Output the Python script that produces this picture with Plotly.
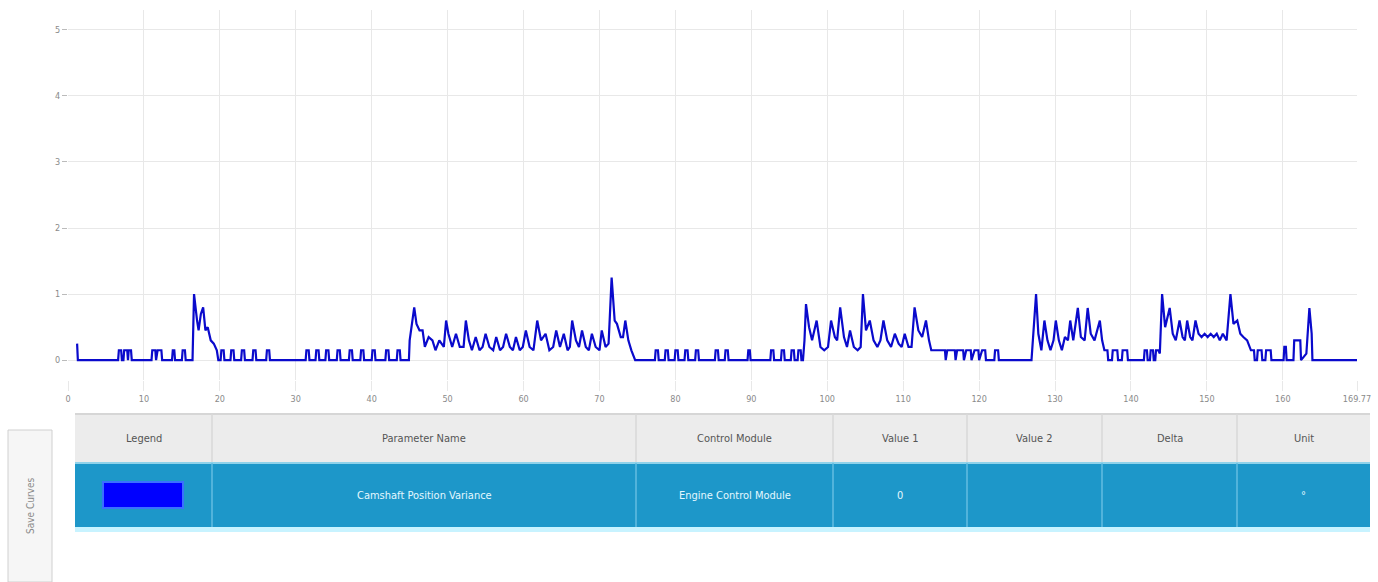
import plotly.graph_objects as go

# ---------------- data ----------------
time_s = [
    1.2, 1.3, 6.6, 6.7, 7.0, 7.1, 7.3, 7.4, 7.8, 7.9, 8.0, 8.3, 8.4,
    11.0, 11.1, 11.5, 11.6, 11.8, 12.3, 12.4, 13.7, 13.8, 14.0, 14.1, 15.0, 15.1, 15.4, 15.5,
    16.4, 16.6, 17.0, 17.2, 17.5, 17.8, 18.1, 18.4, 18.8, 19.2, 19.6, 19.8,
    20.1, 20.2, 20.5, 20.6, 21.4, 21.5, 21.8, 21.9, 22.8, 22.9, 23.2, 23.3, 24.3, 24.4, 24.7, 24.8, 26.1, 26.2, 26.5, 26.6,
    31.3, 31.4, 31.7, 31.8, 32.6, 32.7, 33.0, 33.1, 33.9, 34.0, 34.3, 34.4, 35.4, 35.5, 35.8, 35.9, 37.0, 37.1, 37.4, 37.5,
    38.5, 38.6, 38.9, 39.0, 40.0, 40.1, 40.4, 40.5, 41.8, 41.9, 42.2, 42.3, 43.3, 43.4, 43.7, 43.8,
    44.9, 45.0, 45.6, 45.9, 46.3, 46.7, 47.0, 47.5, 48.0, 48.4, 48.9, 49.5, 49.8, 50.1, 50.6, 51.1, 51.6, 52.1, 52.4, 52.8,
    53.2, 53.7, 54.2, 54.6, 55.0, 55.5, 56.0, 56.4, 56.9, 57.3, 57.7, 58.2, 58.6, 59.0, 59.5, 59.9, 60.3, 60.8, 61.3, 61.8,
    62.3, 62.9, 63.4, 63.9, 64.3, 64.8, 65.3, 65.8, 66.1, 66.4, 66.9, 67.3, 67.7, 68.2, 68.6, 69.0, 69.5, 70.0, 70.3, 70.8,
    71.2, 71.6, 72.0, 72.3, 72.8, 73.1, 73.4, 73.8, 74.2, 74.7,
    77.3, 77.4, 77.7, 77.8, 78.6, 78.7, 79.0, 79.1, 79.9, 80.0, 80.3, 80.4, 81.2, 81.3, 81.6, 81.7, 82.6, 82.7, 83.0, 83.1,
    85.2, 85.3, 85.6, 85.7, 86.5, 86.6, 86.9, 87.0, 89.5, 89.6, 89.8, 89.9, 92.5, 92.6, 92.9, 93.0, 93.9, 94.0, 94.3, 94.4,
    95.2, 95.3, 95.6, 95.7, 96.1, 96.2, 96.5, 96.6,
    96.8, 97.0, 97.2, 97.6, 98.0, 98.6, 99.1, 99.6, 100.1, 100.5, 101.0, 101.3, 101.7, 102.2, 102.6, 103.0, 103.5, 104.0, 104.4, 104.7,
    105.1, 105.6, 106.1, 106.6, 107.0, 107.4, 107.9, 108.4, 108.9, 109.4, 109.8, 110.2, 110.7, 111.1, 111.5, 112.0, 112.5, 113.0, 113.4, 113.7,
    114.0, 114.5, 115.5, 115.6, 115.8, 116.8, 116.9, 117.1, 117.9, 118.0, 118.3, 118.9, 119.0, 119.4, 119.9, 120.0, 120.4, 120.8, 120.9, 122.0, 122.1, 122.5, 122.6,
    126.9, 127.1, 127.5, 127.8, 128.2, 128.6, 129.0, 129.4, 129.8, 130.1, 130.5, 130.9, 131.3, 131.7, 132.0, 132.4, 133.0, 133.4, 133.9, 134.3,
    134.7, 135.2, 135.9, 136.2, 136.5, 136.9, 137.0, 137.5, 137.6, 138.2, 138.3, 138.8, 138.9, 139.5, 139.6,
    141.7, 141.8, 142.1, 142.2, 142.5, 142.6, 142.9, 143.0, 143.2, 143.3, 143.6, 143.8, 144.1, 144.5, 145.1, 145.5, 145.9, 146.4, 146.8, 147.1,
    147.4, 147.8, 148.1, 148.5, 148.9, 149.3, 149.7, 150.1, 150.5, 150.9, 151.3, 151.7, 152.1, 152.6, 153.1, 153.5, 154.0, 154.4, 154.8, 155.3,
    155.8, 156.2, 156.3, 156.6, 156.7, 157.2, 157.3, 157.7, 157.8, 158.4, 158.5, 158.8, 160.1, 160.2, 160.4, 160.5, 161.4, 161.5, 162.3, 162.4,
    163.1, 163.5, 163.8, 163.9, 169.77,
]
variance = [
    0.25, 0, 0, 0.15, 0.15, 0, 0, 0.15, 0.15, 0, 0.15, 0.15, 0,
    0, 0.15, 0.15, 0, 0.15, 0.15, 0, 0, 0.15, 0.15, 0, 0, 0.15, 0.15, 0,
    0, 1.0, 0.6, 0.45, 0.7, 0.8, 0.45, 0.5, 0.3, 0.25, 0.15, 0,
    0, 0.15, 0.15, 0, 0, 0.15, 0.15, 0, 0, 0.15, 0.15, 0, 0, 0.15, 0.15, 0, 0, 0.15, 0.15, 0,
    0, 0.15, 0.15, 0, 0, 0.15, 0.15, 0, 0, 0.15, 0.15, 0, 0, 0.15, 0.15, 0, 0, 0.15, 0.15, 0,
    0, 0.15, 0.15, 0, 0, 0.15, 0.15, 0, 0, 0.15, 0.15, 0, 0, 0.15, 0.15, 0,
    0, 0.3, 0.8, 0.55, 0.45, 0.45, 0.2, 0.35, 0.3, 0.15, 0.3, 0.2, 0.6, 0.4, 0.2, 0.4, 0.2, 0.2, 0.6, 0.3,
    0.15, 0.35, 0.15, 0.2, 0.4, 0.2, 0.15, 0.35, 0.15, 0.2, 0.4, 0.2, 0.15, 0.35, 0.15, 0.2, 0.45, 0.2, 0.15, 0.6,
    0.3, 0.4, 0.15, 0.2, 0.45, 0.2, 0.4, 0.15, 0.2, 0.6, 0.3, 0.2, 0.45, 0.2, 0.15, 0.4, 0.2, 0.15, 0.45, 0.2,
    0.25, 1.25, 0.6, 0.55, 0.35, 0.35, 0.6, 0.3, 0.15, 0,
    0, 0.15, 0.15, 0, 0, 0.15, 0.15, 0, 0, 0.15, 0.15, 0, 0, 0.15, 0.15, 0, 0, 0.15, 0.15, 0,
    0, 0.15, 0.15, 0, 0, 0.15, 0.15, 0, 0, 0.15, 0.15, 0, 0, 0.15, 0.15, 0, 0, 0.15, 0.15, 0,
    0, 0.15, 0.15, 0, 0, 0.15, 0.15, 0,
    0, 0.3, 0.85, 0.5, 0.3, 0.6, 0.2, 0.15, 0.2, 0.6, 0.35, 0.3, 0.8, 0.35, 0.2, 0.45, 0.2, 0.15, 0.2, 1.0,
    0.45, 0.6, 0.3, 0.2, 0.3, 0.6, 0.3, 0.2, 0.4, 0.25, 0.2, 0.4, 0.2, 0.2, 0.8, 0.45, 0.35, 0.6, 0.3, 0.15,
    0.15, 0.15, 0.15, 0, 0.15, 0.15, 0, 0.15, 0.15, 0, 0.15, 0.15, 0, 0.15, 0.15, 0, 0.15, 0.15, 0, 0, 0.15, 0.15, 0,
    0, 0.3, 1.0, 0.4, 0.15, 0.6, 0.3, 0.15, 0.3, 0.6, 0.3, 0.15, 0.35, 0.3, 0.6, 0.3, 0.79, 0.35, 0.3, 0.79,
    0.4, 0.3, 0.6, 0.3, 0.15, 0.15, 0, 0, 0.15, 0.15, 0, 0, 0.15, 0.15, 0,
    0, 0.15, 0.15, 0, 0, 0.15, 0.15, 0, 0, 0.15, 0.15, 0.1, 1.0, 0.5, 0.79, 0.4, 0.3, 0.6, 0.35, 0.3,
    0.6, 0.35, 0.3, 0.6, 0.4, 0.35, 0.4, 0.35, 0.4, 0.35, 0.4, 0.3, 0.4, 0.3, 1.0, 0.55, 0.6, 0.4, 0.35, 0.3,
    0.15, 0.15, 0, 0, 0.15, 0.15, 0, 0, 0.15, 0.15, 0, 0, 0, 0.2, 0.2, 0, 0, 0.3, 0.3, 0,
    0.1, 0.79, 0.4, 0, 0,
]

x_tick_values = [0, 10, 20, 30, 40, 50, 60, 70, 80, 90, 100, 110, 120, 130, 140, 150, 160, 169.77]
x_tick_labels = ["0", "10", "20", "30", "40", "50", "60", "70", "80", "90", "100",
                 "110", "120", "130", "140", "150", "160", "169.77"]
y_tick_values = [0, 1, 2, 3, 4, 5]

table_headers = ["Legend", "Parameter Name", "Control Module", "Value 1", "Value 2", "Delta", "Unit"]
table_row = ["", "Camshaft Position Variance", "Engine Control Module", "0", "", "", "°"]
button_label = "Save Curves"

# ---------------- layout helpers (pixel -> paper) ----------------
W, H = 1378, 582
def px(x):
    return x / W
def py(y):
    return 1 - y / H

FONT = "Liberation Sans Narrow, DejaVu Sans Condensed, Roboto, sans-serif"

fig = go.Figure()
fig.add_trace(go.Scatter(
    x=time_s, y=variance, mode="lines",
    line=dict(color="#0a0acc", width=2.2),
    showlegend=False, hoverinfo="x+y",
))

plot_left, plot_right, plot_top, plot_bottom = 68, 1357, 10, 380

fig.update_layout(
    width=W, height=H,
    margin=dict(l=0, r=0, t=0, b=0),
    paper_bgcolor="white", plot_bgcolor="white",
    font=dict(family=FONT, color="#8a8a8a", size=9),
    xaxis=dict(
        domain=[px(plot_left), px(plot_right)],
        range=[0, 169.77], tickvals=x_tick_values, ticktext=x_tick_labels,
        showgrid=True, gridcolor="#e8e8e8", gridwidth=1,
        zeroline=False, showline=False,
        ticks="outside", ticklen=10, tickcolor="#e8e8e8",
        tickfont=dict(size=9, color="#8a8a8a"), automargin=False,
    ),
    yaxis=dict(
        domain=[py(plot_bottom), py(plot_top)],
        range=[-0.3, 5.3], tickvals=y_tick_values,
        showgrid=True, gridcolor="#e8e8e8", gridwidth=1,
        zeroline=False, showline=False,
        ticks="outside", ticklen=5, tickcolor="#bbbbbb",
        tickfont=dict(size=9, color="#8a8a8a"), automargin=False,
    ),
)

shapes = []
annotations = []

# Save Curves button
shapes.append(dict(type="rect", xref="paper", yref="paper",
                   x0=px(8), x1=px(52), y0=py(582), y1=py(430),
                   fillcolor="#f6f6f6", line=dict(color="#d0d0d0", width=1), layer="above"))
annotations.append(dict(xref="paper", yref="paper", x=px(30), y=py(506),
                        xanchor="center", yanchor="middle",
                        text=button_label, showarrow=False, textangle=-90,
                        font=dict(family=FONT, size=10, color="#8a8a8a")))

# table geometry
col_edges = [75, 212, 636, 833, 967, 1102, 1237, 1370]
head_top, head_bot = 414, 462
row_top, row_bot = 463, 527

shapes.append(dict(type="rect", xref="paper", yref="paper",
                   x0=px(col_edges[0]), x1=px(col_edges[-1]), y0=py(head_bot), y1=py(head_top),
                   fillcolor="#ececec", line=dict(width=0), layer="above"))
shapes.append(dict(type="line", xref="paper", yref="paper",
                   x0=px(col_edges[0]), x1=px(col_edges[-1]), y0=py(head_top), y1=py(head_top),
                   line=dict(color="#d6d6d6", width=2), layer="above"))
shapes.append(dict(type="rect", xref="paper", yref="paper",
                   x0=px(col_edges[0]), x1=px(col_edges[-1]), y0=py(row_bot), y1=py(row_top),
                   fillcolor="#1d97c9", line=dict(width=0), layer="above"))
shapes.append(dict(type="line", xref="paper", yref="paper",
                   x0=px(col_edges[0]), x1=px(col_edges[-1]), y0=py(row_top), y1=py(row_top),
                   line=dict(color="#8fd2ea", width=2), layer="above"))
shapes.append(dict(type="rect", xref="paper", yref="paper",
                   x0=px(col_edges[0]), x1=px(col_edges[-1]), y0=py(532), y1=py(row_bot),
                   fillcolor="#c8f3ff", line=dict(width=0), layer="above"))

for e in col_edges[1:-1]:
    shapes.append(dict(type="line", xref="paper", yref="paper",
                       x0=px(e), x1=px(e), y0=py(head_bot), y1=py(head_top),
                       line=dict(color="#d8d8d8", width=1.5), layer="above"))
    shapes.append(dict(type="line", xref="paper", yref="paper",
                       x0=px(e), x1=px(e), y0=py(row_bot), y1=py(row_top),
                       line=dict(color="#63bde0", width=1.5), layer="above"))

for i, (h, v) in enumerate(zip(table_headers, table_row)):
    cx = (col_edges[i] + col_edges[i + 1]) / 2
    annotations.append(dict(xref="paper", yref="paper", x=px(cx), y=py((head_top + head_bot) / 2),
                            xanchor="center", yanchor="middle",
                            text=h, showarrow=False,
                            font=dict(family=FONT, size=11, color="#555555")))
    if v:
        annotations.append(dict(xref="paper", yref="paper", x=px(cx), y=py((row_top + row_bot) / 2),
                                xanchor="center", yanchor="middle",
                                text=v, showarrow=False,
                                font=dict(family=FONT, size=11, color="#e4f7ff")))

# legend swatch in the Legend cell
shapes.append(dict(type="rect", xref="paper", yref="paper",
                   x0=px(103), x1=px(183), y0=py(508), y1=py(482),
                   fillcolor="#0000ff", line=dict(color="#3a70ff", width=2), layer="above"))

fig.update_layout(shapes=shapes, annotations=annotations)

assert len(time_s) == len(variance)
fig.write_html(
    "out.html",
    config={"displayModeBar": False},
    post_script="document.body.style.margin='0px';document.body.style.overflow='hidden';",
)
